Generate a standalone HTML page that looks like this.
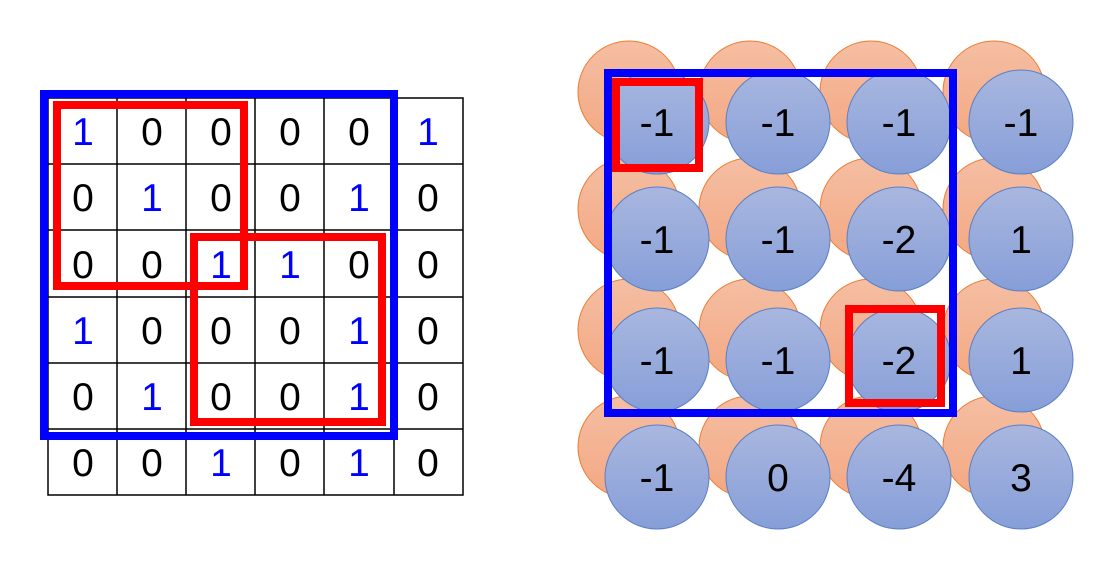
<!DOCTYPE html>
<html><head><style>body{margin:0;background:#fff}svg{display:block}</style></head><body>
<svg width="1119" height="563" viewBox="0 0 1119 563" xmlns="http://www.w3.org/2000/svg" font-family="Liberation Sans, sans-serif">
<defs>
<linearGradient id="bg" x1="0" y1="0" x2="0" y2="1"><stop offset="0" stop-color="#a9b7df"/><stop offset="1" stop-color="#869ed8"/></linearGradient>
<linearGradient id="og" x1="0" y1="0" x2="0" y2="1"><stop offset="0" stop-color="#f5bea3"/><stop offset="1" stop-color="#f3a882"/></linearGradient>
</defs>
<g stroke="#000" stroke-width="1.5" fill="none">
<rect x="48" y="98" width="415" height="397"/>
<line x1="117" y1="98" x2="117" y2="495"/><line x1="186" y1="98" x2="186" y2="495"/><line x1="255" y1="98" x2="255" y2="495"/><line x1="324" y1="98" x2="324" y2="495"/><line x1="394" y1="98" x2="394" y2="495"/>
<line x1="48" y1="164" x2="463" y2="164"/><line x1="48" y1="230" x2="463" y2="230"/><line x1="48" y1="297" x2="463" y2="297"/><line x1="48" y1="363" x2="463" y2="363"/><line x1="48" y1="429" x2="463" y2="429"/>
</g>
<g font-size="39" text-anchor="middle" fill="#000">
<text x="83" y="145" fill="#00f">1</text><text x="152" y="145">0</text><text x="221" y="145">0</text><text x="290" y="145">0</text><text x="359" y="145">0</text><text x="428" y="145" fill="#00f">1</text>
<text x="83" y="211">0</text><text x="152" y="211" fill="#00f">1</text><text x="221" y="211">0</text><text x="290" y="211">0</text><text x="359" y="211" fill="#00f">1</text><text x="428" y="211">0</text>
<text x="83" y="278">0</text><text x="152" y="278">0</text><text x="221" y="278" fill="#00f">1</text><text x="290" y="278" fill="#00f">1</text><text x="359" y="278">0</text><text x="428" y="278">0</text>
<text x="83" y="344" fill="#00f">1</text><text x="152" y="344">0</text><text x="221" y="344">0</text><text x="290" y="344">0</text><text x="359" y="344" fill="#00f">1</text><text x="428" y="344">0</text>
<text x="83" y="410">0</text><text x="152" y="410" fill="#00f">1</text><text x="221" y="410">0</text><text x="290" y="410">0</text><text x="359" y="410" fill="#00f">1</text><text x="428" y="410">0</text>
<text x="83" y="476">0</text><text x="152" y="476">0</text><text x="221" y="476" fill="#00f">1</text><text x="290" y="476">0</text><text x="359" y="476" fill="#00f">1</text><text x="428" y="476">0</text>
</g>
<rect x="44" y="94" width="350" height="342" fill="none" stroke="#00f" stroke-width="8"/>
<rect x="57" y="105" width="187" height="181" fill="none" stroke="#f00" stroke-width="8"/>
<rect x="194" y="237" width="188" height="185" fill="none" stroke="#f00" stroke-width="8"/>
<g fill="url(#og)" stroke="#ed7d31" stroke-width="1">
<circle cx="629" cy="92" r="51"/><circle cx="750" cy="92" r="51"/><circle cx="871" cy="92" r="51"/><circle cx="994" cy="92" r="51"/>
<circle cx="629" cy="209" r="51"/><circle cx="750" cy="209" r="51"/><circle cx="871" cy="209" r="51"/><circle cx="994" cy="209" r="51"/>
<circle cx="629" cy="330" r="51"/><circle cx="750" cy="330" r="51"/><circle cx="871" cy="330" r="51"/><circle cx="994" cy="330" r="51"/>
<circle cx="629" cy="447" r="51"/><circle cx="750" cy="447" r="51"/><circle cx="871" cy="447" r="51"/><circle cx="994" cy="447" r="51"/>
</g>
<g fill="url(#bg)" stroke="#5b7fc6" stroke-width="1">
<circle cx="657" cy="122" r="52"/><circle cx="778" cy="122" r="52"/><circle cx="899" cy="122" r="52"/><circle cx="1021" cy="122" r="52"/>
<circle cx="657" cy="239" r="52"/><circle cx="778" cy="239" r="52"/><circle cx="899" cy="239" r="52"/><circle cx="1021" cy="239" r="52"/>
<circle cx="657" cy="360" r="52"/><circle cx="778" cy="360" r="52"/><circle cx="899" cy="360" r="52"/><circle cx="1021" cy="360" r="52"/>
<circle cx="657" cy="477" r="52"/><circle cx="778" cy="477" r="52"/><circle cx="899" cy="477" r="52"/><circle cx="1021" cy="477" r="52"/>
</g>
<g font-size="39" text-anchor="middle" fill="#000">
<text x="657" y="136">-1</text><text x="778" y="136">-1</text><text x="899" y="136">-1</text><text x="1021" y="136">-1</text>
<text x="657" y="253">-1</text><text x="778" y="253">-1</text><text x="899" y="253">-2</text><text x="1021" y="253">1</text>
<text x="657" y="374">-1</text><text x="778" y="374">-1</text><text x="899" y="374">-2</text><text x="1021" y="374">1</text>
<text x="657" y="491">-1</text><text x="778" y="491">0</text><text x="899" y="491">-4</text><text x="1021" y="491">3</text>
</g>
<rect x="608" y="73" width="345" height="340" fill="none" stroke="#00f" stroke-width="8"/>
<rect x="616" y="82" width="83" height="86" fill="none" stroke="#f00" stroke-width="8"/>
<rect x="849" y="309" width="92" height="94" fill="none" stroke="#f00" stroke-width="8"/>
</svg>
</body></html>
